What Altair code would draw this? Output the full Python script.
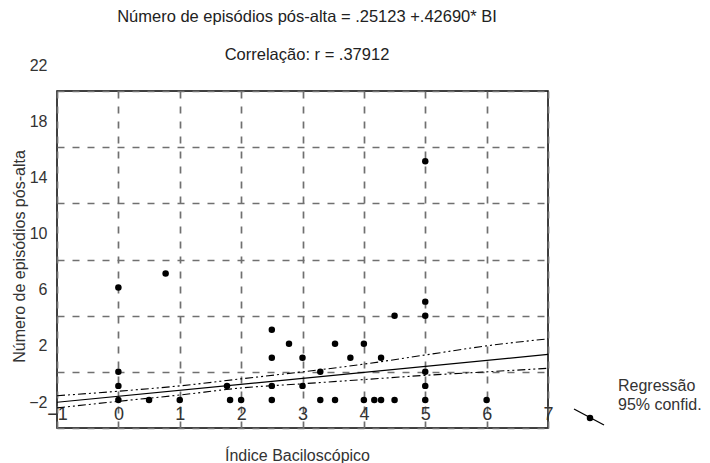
import altair as alt
import pandas as pd

# Scatter points (Índice Baciloscópico, Número de episódios pós-alta)
bi = [0, 0, 0, 0, 0.5, 0.77, 1, 1.77, 1.82, 2, 2.5, 2.5, 2.5, 2.5, 2.78, 3, 3, 3.29,
      3.29, 3.53, 3.53, 3.78, 4, 4, 4.17, 4.28, 4.28, 4.5, 4.5, 5, 5, 5, 5, 5, 5, 6]
episodes = [0, 1, 2, 8, 0, 9, 0, 1, 0, 0, 0, 1, 3, 5, 4, 1, 3, 0,
            2, 0, 4, 3, 0, 4, 0, 0, 3, 0, 6, 0, 1, 2, 6, 7, 17, 0]

# Regression line endpoints
reg_x = [-1, 7]
reg_y = [-0.17, 3.24]

# 95% confidence curves
ci_x = [-1, 0, 1, 2, 3, 4, 5, 6, 7]
ci_upper = [0.30, 0.62, 1.00, 1.50, 2.00, 2.55, 3.20, 3.85, 4.35]
ci_lower = [-0.57, -0.10, 0.35, 0.85, 1.15, 1.45, 1.75, 2.00, 2.25]

x_ticks = [-1, 0, 1, 2, 3, 4, 5, 6, 7]
y_ticks = [-2, 2, 6, 10, 14, 18, 22]

title1 = "Número de episódios pós-alta = .25123 +.42690* BI"
title2 = "Correlação: r = .37912"
legend_lines = ["Regressão", "95% confid."]

FONT = "Liberation Sans"
W, H = 491, 337

pts = pd.DataFrame({"bi": bi, "ep": episodes})
reg = pd.DataFrame({"bi": reg_x, "ep": reg_y})
ciu = pd.DataFrame({"bi": ci_x, "ep": ci_upper})
cil = pd.DataFrame({"bi": ci_x, "ep": ci_lower})

xscale = alt.Scale(domain=[-1, 7], nice=False, zero=False)
yscale = alt.Scale(domain=[-2, 22], nice=False, zero=False)

xaxis = alt.Axis(values=x_ticks, format="d", grid=True, gridDash=[7, 8], gridColor="#707070",
                 gridWidth=1.7, domain=False, ticks=False, labelFont=FONT, labelFontSize=18,
                 labelColor="#333", labelPadding=-14, labelBaseline="middle", labelFlush=False,
                 title="Índice Baciloscópico", titleFont=FONT, titleFontSize=16,
                 titleFontWeight="normal", titleColor="#333", titleX=240, titleY=27,
                 titleAlign="center", titleBaseline="middle")
yaxis = alt.Axis(values=y_ticks, format="d", grid=True, gridDash=[7, 8], gridColor="#707070",
                 gridWidth=1.7, domain=False, ticks=False, labelFont=FONT, labelFontSize=16,
                 labelColor="#333", labelPadding=10, labelOffset=-26, labelFlush=False,
                 title="Número de episódios pós-alta", titleFont=FONT, titleFontSize=16,
                 titleFontWeight="normal", titleColor="#333", titleX=-38, titleY=165,
                 titleAngle=-90, titleAlign="center", titleBaseline="middle")

base_pts = alt.Chart(pts).mark_circle(size=42, color="black", opacity=1).encode(
    x=alt.X("bi:Q", scale=xscale, axis=xaxis),
    y=alt.Y("ep:Q", scale=yscale, axis=yaxis),
)

reg_line = alt.Chart(reg).mark_line(color="black", strokeWidth=1.1).encode(
    x=alt.X("bi:Q", scale=xscale), y=alt.Y("ep:Q", scale=yscale))
up_line = alt.Chart(ciu).mark_line(color="black", strokeWidth=1.1, interpolate="monotone",
                                   strokeDash=[8, 3, 2, 3, 2, 3]).encode(
    x=alt.X("bi:Q", scale=xscale), y=alt.Y("ep:Q", scale=yscale))
lo_line = alt.Chart(cil).mark_line(color="black", strokeWidth=1.1, interpolate="monotone",
                                   strokeDash=[8, 3, 2, 3, 2, 3]).encode(
    x=alt.X("bi:Q", scale=xscale), y=alt.Y("ep:Q", scale=yscale))

titles = pd.DataFrame({"t": [title1, title2], "py": [-74, -36]})
title_marks = alt.Chart(titles).mark_text(font=FONT, fontSize=16.5, color="#222",
                                          align="center", baseline="middle").encode(
    x=alt.value(250), y=alt.Y("py:Q", scale=None), text="t:N")

leg = pd.DataFrame({"t": legend_lines, "py": [295, 314]})
leg_text = alt.Chart(leg).mark_text(font=FONT, fontSize=16, color="#333",
                                    align="left", baseline="middle").encode(
    x=alt.value(561), y=alt.Y("py:Q", scale=None), text="t:N")

leg_rule = alt.Chart(pd.DataFrame({"a": [0]})).mark_rule(color="black", strokeWidth=1.2).encode(
    x=alt.value(517), x2=alt.value(547), y=alt.value(318), y2=alt.value(334))
leg_dot = alt.Chart(pd.DataFrame({"a": [0]})).mark_circle(size=42, color="black", opacity=1).encode(
    x=alt.value(533), y=alt.value(327))

chart = alt.layer(base_pts, reg_line, up_line, lo_line, title_marks, leg_text, leg_rule, leg_dot).properties(
    width=W, height=H,
    autosize=alt.AutoSizeParams(type="none"),
    padding={"left": 49, "top": 83, "right": 154, "bottom": 35},
    background="white",
).configure_view(stroke="black", strokeWidth=1.5).configure_axis(labelOverlap=False)

chart.save("out.html", embed_options={"renderer": "svg", "actions": False})
